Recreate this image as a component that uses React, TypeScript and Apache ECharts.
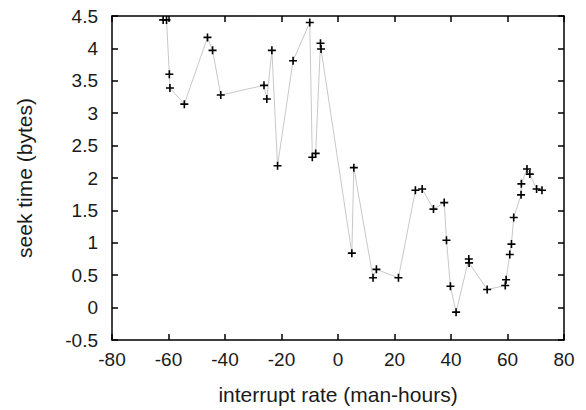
import React, { useEffect, useRef } from "react";
import * as echarts from "echarts";

const xValues = [
  -61.9, -60.7, -59.7, -59.5, -54.4, -46.2, -44.4, -41.5, -26.2, -25.2, -23.4, -21.4, -15.9,
  -10.0, -9.1, -7.9, -6.2, -6.0, 4.9, 5.6, 12.4, 13.6, 21.4, 27.4, 29.8, 33.8, 37.6, 38.4,
  39.8, 41.8, 46.3, 46.4, 52.8, 59.2, 59.5, 60.8, 61.4, 62.2, 64.8, 64.9, 66.9, 67.9, 70.3, 72.2,
];
const yValues = [
  4.44, 4.44, 3.6, 3.39, 3.14, 4.17, 3.97, 3.28, 3.43, 3.22, 3.97, 2.19, 3.81, 4.4, 2.32,
  2.38, 4.08, 3.99, 0.84, 2.16, 0.46, 0.59, 0.46, 1.81, 1.83, 1.52, 1.62, 1.04, 0.33, -0.07,
  0.75, 0.69, 0.28, 0.34, 0.43, 0.82, 0.98, 1.39, 1.74, 1.91, 2.14, 2.06, 1.83, 1.81,
];

const xTitle = "interrupt rate (man-hours)";
const yTitle = "seek time (bytes)";

const FONT = "'Liberation Sans', Arial, sans-serif";
const PLUS = "path://M0,3.2 H3.2 V0 H4.8 V3.2 H8 V4.8 H4.8 V8 H3.2 V4.8 H0 Z";

export default function App() {
  const ref = useRef<HTMLDivElement>(null);
  useEffect(() => {
    if (!ref.current) return;
    const chart = echarts.init(ref.current, undefined, { renderer: "svg" });
    const axisCommon = {
      type: "value" as const,
      axisLine: { show: true, onZero: false, lineStyle: { color: "#000", width: 1.5 } },
      axisTick: { show: true, inside: true, length: 6, lineStyle: { color: "#000", width: 1.5 } },
      splitLine: { show: false },
    };
    const data = xValues.map((x, i) => [x, yValues[i]]);
    chart.setOption({
      animation: false,
      backgroundColor: "#fff",
      textStyle: { fontFamily: FONT },
      grid: { left: 112, right: 22, top: 16, bottom: 65, containLabel: false },
      xAxis: [
        {
          ...axisCommon,
          position: "bottom",
          min: -80,
          max: 80,
          interval: 20,
          axisLabel: { color: "#1a1a1a", fontSize: 19, fontFamily: FONT, margin: 10 },
          name: xTitle,
          nameLocation: "middle",
          nameGap: 44,
          nameTextStyle: { color: "#1a1a1a", fontSize: 21, fontFamily: FONT },
        },
        {
          ...axisCommon,
          position: "top",
          min: -80,
          max: 80,
          interval: 20,
          axisLabel: { show: false },
        },
      ],
      yAxis: [
        {
          ...axisCommon,
          position: "left",
          min: -0.5,
          max: 4.5,
          interval: 0.5,
          axisLabel: { color: "#1a1a1a", fontSize: 19, fontFamily: FONT, margin: 14 },
          name: yTitle,
          nameLocation: "middle",
          nameGap: 77,
          nameTextStyle: { color: "#1a1a1a", fontSize: 21, fontFamily: FONT },
        },
        {
          ...axisCommon,
          position: "right",
          min: -0.5,
          max: 4.5,
          interval: 0.5,
          axisLabel: { show: false },
        },
      ],
      series: [
        {
          type: "line",
          data,
          xAxisIndex: 0,
          yAxisIndex: 0,
          symbol: PLUS,
          symbolSize: 8,
          showAllSymbol: true,
          lineStyle: { color: "#c8c8c8", width: 1 },
          itemStyle: { color: "#000" },
        },
      ],
    });
    return () => chart.dispose();
  }, []);
  return (
    <div
      ref={ref}
      style={{ position: "absolute", left: 0, top: 0, width: 586, height: 410 }}
    />
  );
}
